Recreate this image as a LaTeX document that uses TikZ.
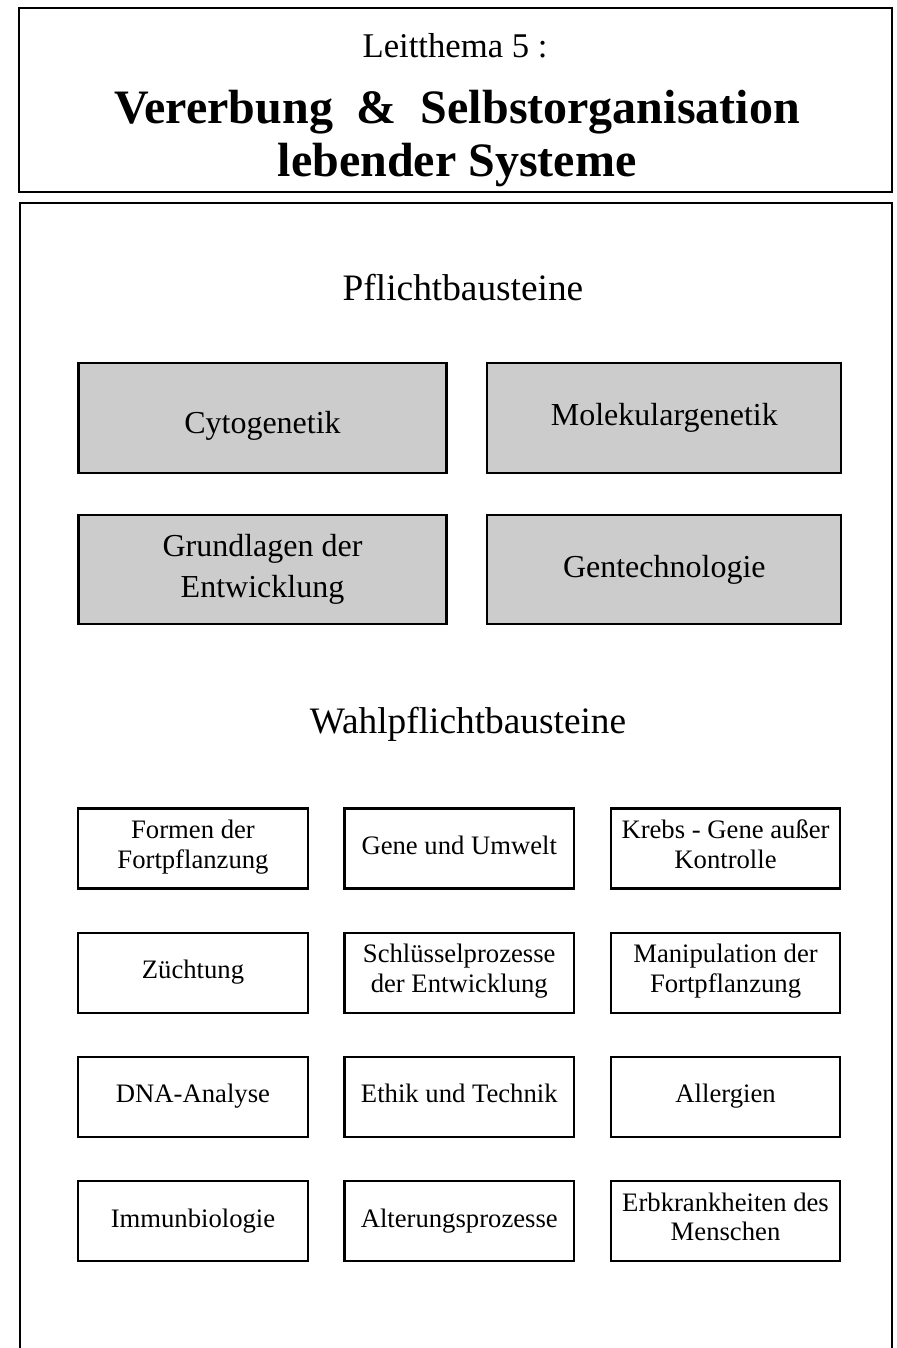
\documentclass[tikz,border=0pt]{standalone}
\usepackage{fontspec}
\setmainfont{Liberation Serif}
\usetikzlibrary{positioning}
\tikzset{
  frame/.style={draw=black, line width=2.2pt},
  pflicht/.style={rectangle, draw=black, line width=1.6pt, fill=black!20, minimum width=276pt, minimum height=82pt, align=center, font=\fontsize{24}{31}\selectfont},
  wahl/.style={rectangle, draw=black, line width=1.7pt, fill=white, minimum width=172pt, minimum height=60pt, align=center, inner sep=2pt, font=\fontsize{20}{22}\selectfont,
    execute at begin node={\strut}, execute at end node={\strut}}
}

\begin{document}
\begin{tikzpicture}[x=0.75pt, y=-0.75pt,
        heading/.style={anchor=base, font=\fontsize{28}{32}\selectfont},
        titlebig/.style={anchor=base, font=\fontsize{36}{40}\selectfont\bfseries}]
        \useasboundingbox (0,0) rectangle (896,1348);

        % Titelkasten
        \node (titel) [frame, rectangle, minimum width=654.75pt, minimum height=138pt] at (455.5,100) {};
        \node (leit) [anchor=base, font=\fontsize{26}{30}\selectfont] at (455,58) {Leitthema 5 :};
        \node (zeile1) [titlebig] at (457,124) {Vererbung~~\&~~Selbstorganisation};
        \node (zeile2) [titlebig] at (457,177) {lebender Systeme};

        % Hauptkasten (unten offen)
        \draw [frame] (20,1352) |- (892,203) -- (892,1352);

        % Pflichtbausteine
        \node (pflicht) [heading] at (463,300) {Pflichtbausteine};
        \node (cyto) [pflicht] at (262.5,418) {\raisebox{-6pt}[\height][\depth]{Cytogenetik}};
        \node (molekular) [pflicht, minimum width=265.5pt, right=29pt of cyto] {Molekulargenetik};
        \node (grundlagen) [pflicht, below=30pt of cyto] {Grundlagen der\\Entwicklung};
        \node (gentech) [pflicht, minimum width=265.5pt, below=30pt of molekular] {Gentechnologie};

        % Wahlpflichtbausteine
        \node (wahlpflicht) [heading] at (468,733) {Wahlpflichtbausteine};
        \node (formen) [wahl] at (193,848.5) {Formen der\\Fortpflanzung};
        \node (umwelt) [wahl, right=26pt of formen] {Gene und Umwelt};
        \node (krebs) [wahl, right=26pt of umwelt] {Krebs - Gene außer\\Kontrolle};

        \node (zuechtung) [wahl, below=31.5pt of formen] {Züchtung};
        \node (schluessel) [wahl, below=31.5pt of umwelt] {Schlüsselprozesse\\der Entwicklung};
        \node (manipulation) [wahl, below=31.5pt of krebs] {Manipulation der\\Fortpflanzung};

        \node (dna) [wahl, below=31.5pt of zuechtung] {DNA-Analyse};
        \node (ethik) [wahl, below=31.5pt of schluessel] {Ethik und Technik};
        \node (allergien) [wahl, below=31.5pt of manipulation] {Allergien};

        \node (immun) [wahl, below=31.5pt of dna] {Immunbiologie};
        \node (alterung) [wahl, below=31.5pt of ethik] {Alterungsprozesse};
        \node (erbkrank) [wahl, below=31.5pt of allergien] {Erbkrankheiten des\\Menschen};

\end{tikzpicture}
\end{document}
